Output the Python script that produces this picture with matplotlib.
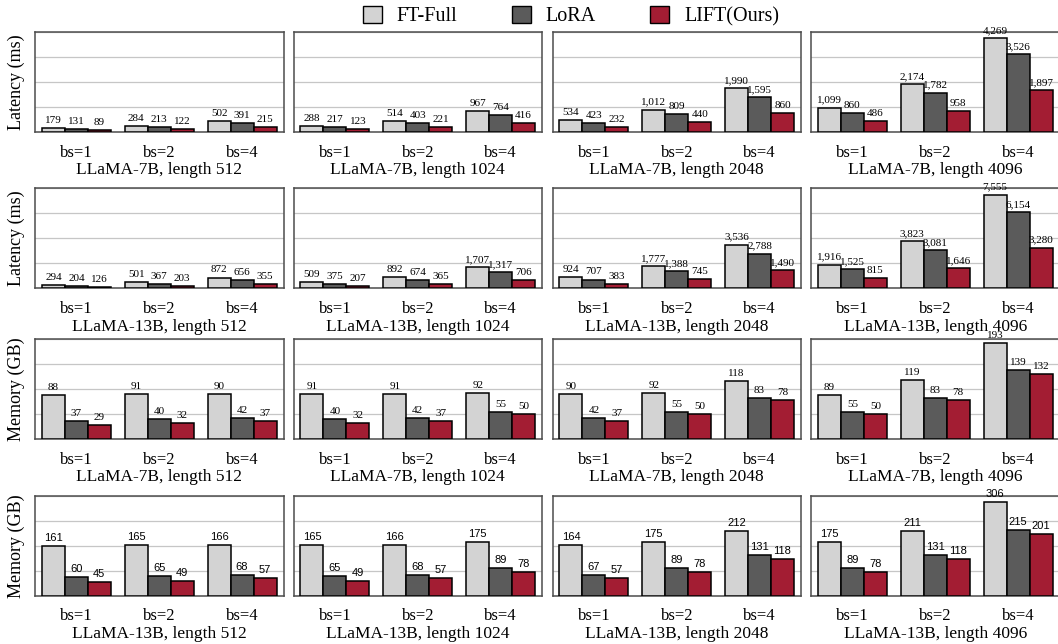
import matplotlib
matplotlib.use("Agg")
import matplotlib.pyplot as plt
from matplotlib.patches import Patch
import numpy as np

plt.rcParams['font.family'] = ['Liberation Serif', 'DejaVu Serif']

methods = ["FT-Full", "LoRA", "LIFT(Ours)"]
colors = ["#d3d3d3", "#5b5b5b", "#a31d33"]
batch_labels = ["bs=1", "bs=2", "bs=4"]
lengths = [512, 1024, 2048, 4096]

# Row 1: Latency (ms), LLaMA-7B
lat7_ft = [[179, 284, 502], [288, 514, 967], [534, 1012, 1990], [1099, 2174, 4269]]
lat7_lora = [[131, 213, 391], [217, 403, 764], [423, 809, 1595], [860, 1782, 3526]]
lat7_lift = [[89, 122, 215], [123, 221, 416], [232, 440, 860], [486, 958, 1897]]

# Row 2: Latency (ms), LLaMA-13B
lat13_ft = [[294, 501, 872], [509, 892, 1707], [924, 1777, 3536], [1916, 3823, 7555]]
lat13_lora = [[204, 367, 656], [375, 674, 1317], [707, 1388, 2788], [1525, 3081, 6154]]
lat13_lift = [[126, 203, 355], [207, 365, 706], [383, 745, 1490], [815, 1646, 3280]]

# Row 3: Memory (GB), LLaMA-7B
mem7_ft = [[88, 91, 90], [91, 91, 92], [90, 92, 118], [89, 119, 193]]
mem7_lora = [[37, 40, 42], [40, 42, 55], [42, 55, 83], [55, 83, 139]]
mem7_lift = [[29, 32, 37], [32, 37, 50], [37, 50, 78], [50, 78, 132]]

# Row 4: Memory (GB), LLaMA-13B
mem13_ft = [[161, 165, 166], [165, 166, 175], [164, 175, 212], [175, 211, 306]]
mem13_lora = [[60, 65, 68], [65, 68, 89], [67, 89, 131], [89, 131, 215]]
mem13_lift = [[45, 49, 57], [49, 57, 78], [57, 78, 118], [78, 118, 201]]

rows = [
    ("Latency (ms)", "LLaMA-7B", (lat7_ft, lat7_lora, lat7_lift), 4542, "serif"),
    ("Latency (ms)", "LLaMA-13B", (lat13_ft, lat13_lora, lat13_lift), 8080, "serif"),
    ("Memory (GB)", "LLaMA-7B", (mem7_ft, mem7_lora, mem7_lift), 202, "serif"),
    ("Memory (GB)", "LLaMA-13B", (mem13_ft, mem13_lora, mem13_lift), 325.5, "sans"),
]

W, H = 1058, 644
fig = plt.figure(figsize=(W / 100, H / 100), dpi=100)

row_tops = [32, 188.3, 339, 495.7]
row_h = 100
col_lefts = [35, 293.5, 552.5, 811]
col_w = 248.5
bw = 0.277

for r, (ylab, model, series, ymax, vfont) in enumerate(rows):
    for c, L in enumerate(lengths):
        ax = fig.add_axes([col_lefts[c] / W, 1 - (row_tops[r] + row_h) / H, col_w / W, row_h / H])
        x = np.arange(3)
        for k in range(3):
            vals = series[k][c]
            bars = ax.bar(x + (k - 1) * bw, vals, width=bw, color=colors[k],
                          edgecolor="black", linewidth=1.1, zorder=3)
            for b, v in zip(bars, vals):
                if vfont == "sans":
                    fam, fs = ["Liberation Sans", "DejaVu Sans"], 8
                else:
                    fam, fs = ["Liberation Serif", "DejaVu Serif"], 8
                ax.annotate(f"{v:,}", (b.get_x() + b.get_width() / 2, b.get_height()),
                            xytext=(0, 2.2), textcoords="offset points",
                            ha="center", va="bottom", fontsize=fs, family=fam,
                            zorder=5, annotation_clip=False)
        ax.set_xlim(-0.5, 2.5)
        ax.set_ylim(0, ymax)
        ax.set_yticks(np.linspace(0, ymax, 5))
        ax.set_yticklabels([])
        ax.tick_params(axis="y", length=0)
        ax.grid(axis="y", color="#c6c6c6", linewidth=0.9, zorder=0)
        ax.set_xticks(x)
        ax.set_xticklabels(batch_labels, fontsize=12)
        ax.tick_params(axis="x", length=0, pad=9)
        for s in ax.spines.values():
            s.set_color("#4d4d4d")
            s.set_linewidth(1.1)
        ax.annotate(f"{model}, length {L}", (0.5, 0), xycoords="axes fraction",
                    xytext=(0, -30.5), textcoords="offset points",
                    ha="center", va="baseline", fontsize=12.5)
        if c == 0:
            ax.set_ylabel(ylab, fontsize=13, labelpad=4)

handles = [Patch(facecolor=colors[k], edgecolor="black", linewidth=1.0) for k in range(3)]
fig.legend(handles, methods, loc="center", bbox_to_anchor=(571 / W, 1 - 16 / H),
           ncol=3, frameon=False, fontsize=14.5, handlelength=0.93, handleheight=0.93,
           handletextpad=0.75, columnspacing=2.7, borderpad=0)

fig.savefig("out.png", dpi=100)
